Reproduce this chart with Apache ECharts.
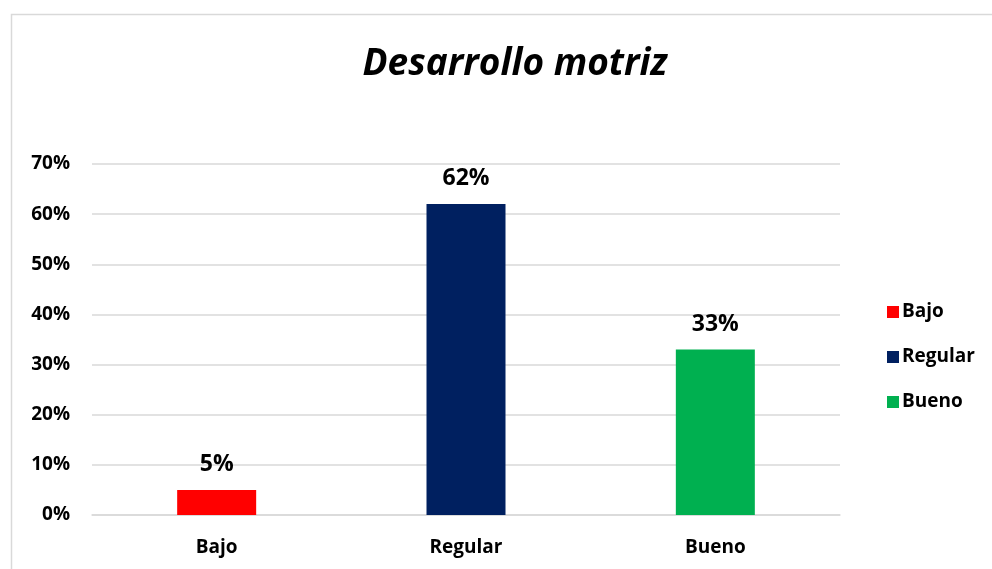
<!DOCTYPE html>
<html>
<head>
<meta charset="utf-8">
<script src="https://cdn.jsdelivr.net/npm/echarts@6/dist/echarts.min.js"></script>
<style>
  html, body { margin: 0; padding: 0; background: #fff; }
  #chart { width: 992px; height: 569px; }
</style>
</head>
<body>
<div id="chart"></div>
<script>
const categories = ["Bajo", "Regular", "Bueno"];
const values = [5, 62, 33];
const colors = ["#FF0000", "#002060", "#00B050"];
const yTicks = [0, 10, 20, 30, 40, 50, 60, 70];

const font = "Open Sans";

let chart = echarts.init(document.getElementById("chart"));

// one series per category so the legend shows each colour
let series = categories.map((name, i) => {
  let data = categories.map((c, j) => (j === i ? values[i] : "-"));
  return {
    name: name,
    type: "bar",
    barWidth: 79,
    barGap: "-100%",
    itemStyle: { color: colors[i] },
    label: {
      show: true,
      position: "top",
      distance: 14,
      formatter: "{c}%",
      color: "#000",
      fontFamily: font,
      fontWeight: "bold",
      fontSize: 23,
    },
    data: data,
  };
});

let option = {
  animation: false,
  backgroundColor: "#fff",
  graphic: [
    {
      type: "rect",
      shape: { x: 11.5, y: 14.5, width: 1000, height: 600 },
      style: { fill: "none", stroke: "#d9d9d9", lineWidth: 1.5 },
      silent: true,
    },
  ],
  title: {
    text: "Desarrollo motriz",
    left: 510,
    textAlign: "center",
    top: 41,
    textStyle: {
      fontFamily: font,
      fontStyle: "italic",
      fontWeight: "bold",
      fontSize: 37,
      color: "#000",
    },
  },
  legend: {
    orient: "vertical",
    left: 882,
    top: 297,
    itemWidth: 12,
    itemHeight: 12,
    itemGap: 25,
    icon: "rect",
    textStyle: {
      fontFamily: font,
      fontWeight: "bold",
      fontSize: 19,
      lineHeight: 20,
      color: "#000",
      padding: [0, 0, 0, -2],
    },
    data: categories,
  },
  grid: {
    left: 92,
    right: 152,
    top: 164,
    bottom: 54,
  },
  xAxis: {
    type: "category",
    data: categories,
    axisTick: { show: false },
    axisLine: { lineStyle: { color: "#d9d9d9", width: 1.5 } },
    axisLabel: {
      margin: 23,
      color: "#000",
      fontFamily: font,
      fontWeight: "bold",
      fontSize: 19,
    },
  },
  yAxis: {
    type: "value",
    min: yTicks[0],
    max: yTicks[yTicks.length - 1],
    interval: 10,
    axisLine: { show: false },
    axisTick: { show: false },
    splitLine: { lineStyle: { color: "#d9d9d9", width: 1.5 } },
    axisLabel: {
      margin: 22,
      formatter: "{value}%",
      color: "#000",
      fontFamily: font,
      fontWeight: "bold",
      fontSize: 19,
    },
  },
  series: series,
};

chart.setOption(option);
</script>
</body>
</html>
